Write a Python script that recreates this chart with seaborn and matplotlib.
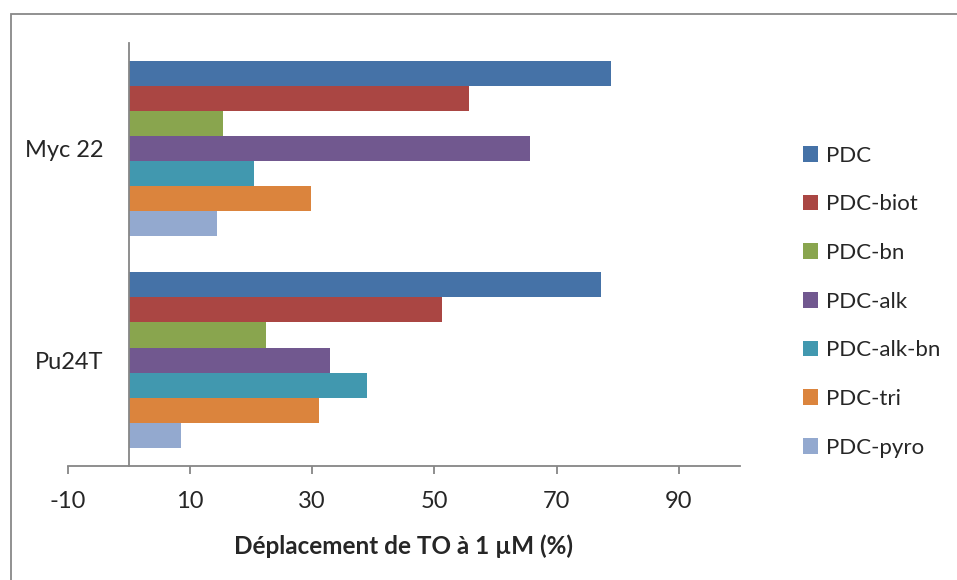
import pandas as pd
import seaborn as sns
import matplotlib.pyplot as plt
from matplotlib.patches import Rectangle

# Données
targets = ['Myc 22', 'Pu24T']
compounds = ['PDC', 'PDC-biot', 'PDC-bn', 'PDC-alk', 'PDC-alk-bn', 'PDC-tri', 'PDC-pyro']
myc22_values = [78.9, 55.7, 15.4, 65.6, 20.5, 29.8, 14.4]
pu24t_values = [77.2, 51.2, 22.4, 32.9, 38.9, 31.1, 8.6]
colors = ['#4572A7', '#AA4643', '#89A54E', '#71588F', '#4198AF', '#DB843D', '#93A9CF']
x_ticks = [-10, 10, 30, 50, 70, 90]

df = pd.DataFrame({
    'target': [t for t in targets for _ in compounds],
    'compound': compounds * len(targets),
    'value': myc22_values + pu24t_values,
})

sns.set_style('white')
plt.rcParams['font.family'] = ['Lato', 'DejaVu Sans']

fig = plt.figure(figsize=(9.57, 5.8), dpi=100)
ax = fig.add_axes([0.0707, 0.197, 0.7026, 0.729])

sns.barplot(
    ax=ax,
    data=df,
    x='value',
    y='target',
    hue='compound',
    order=targets,
    hue_order=compounds,
    palette=dict(zip(compounds, colors)),
    saturation=1,
    orient='h',
    width=0.83,
    gap=0,
    linewidth=0,
    legend=True,
)

# Axes façon Excel
ax.set_xlim(-10, 100)
ax.set_ylim(1.5, -0.5)
ax.set_xticks(x_ticks)
ax.set_xticklabels([str(t) for t in x_ticks])
ax.set_xlabel('Déplacement de TO à 1 µM (%)', fontsize=17.5, fontweight='bold', labelpad=16)
ax.set_ylabel('')

for side in ['top', 'right']:
    ax.spines[side].set_visible(False)
ax.spines['left'].set_position(('data', 0))
for side in ['left', 'bottom']:
    ax.spines[side].set_color('#868686')
    ax.spines[side].set_linewidth(1.3)

ax.tick_params(axis='x', direction='out', length=6, width=1.3, color='#868686',
               labelsize=17, pad=12, bottom=True)
ax.tick_params(axis='y', length=0, labelsize=17, pad=18.5, left=True)

handles, labels = ax.get_legend_handles_labels()
ax.legend(
    handles, labels,
    loc='center left',
    bbox_to_anchor=(1.093, 0.388),
    frameon=False,
    fontsize=16,
    handlelength=0.7,
    handleheight=0.7,
    handletextpad=0.36,
    labelspacing=1.29,
    borderpad=0,
    borderaxespad=0,
)

# Cadre gris autour de la zone du graphique
fig.patches.append(Rectangle((0.011, -0.1), 1.2, 1.1 - 0.0233, transform=fig.transFigure,
                             fill=False, edgecolor='#888888', linewidth=1.3))

fig.savefig('out.png', dpi=100)
plt.close(fig)
